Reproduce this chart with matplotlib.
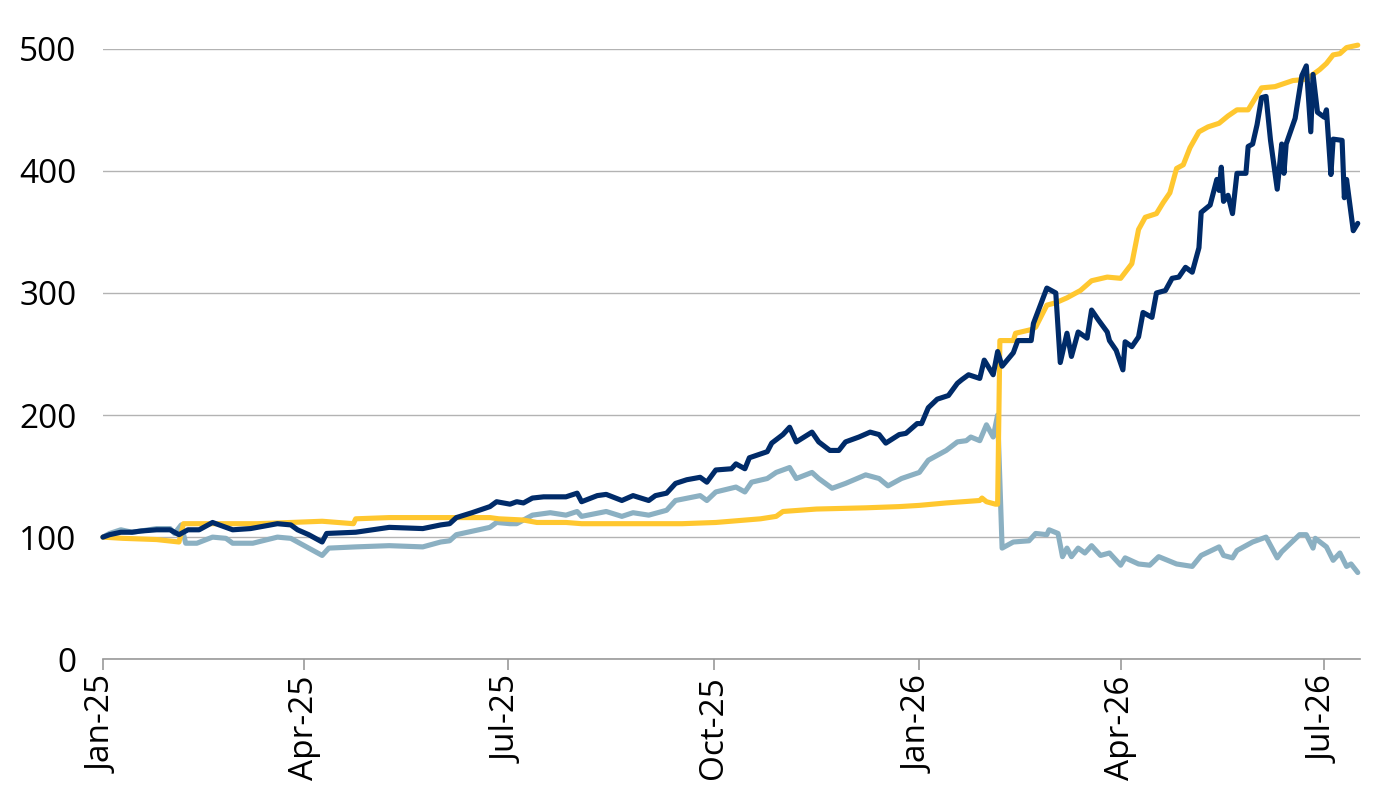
import matplotlib
matplotlib.use("Agg")
import matplotlib.pyplot as plt
import matplotlib.dates as mdates
import numpy as np
import pandas as pd

START = pd.Timestamp("2025-01-01")

# dark navy series (days since start, index value)
navy_days = [0, 3, 8, 13, 17, 24, 30, 34, 38, 43, 49, 58, 66, 78, 84, 87, 92, 98, 100, 113,
             128, 143, 151, 155, 158, 165, 173, 176, 182, 185, 188, 192, 197, 207, 212, 214,
             221, 225, 232, 237, 244, 247, 252, 256, 261, 267, 270, 274, 281, 283, 287, 289,
             297, 299, 304, 307, 310, 317, 320, 325, 329, 332, 338, 343, 347, 350, 356, 359,
             364, 366, 369, 373, 378, 382, 384, 387, 392, 394, 398, 400, 402, 407, 409, 415,
             416, 422, 426, 428, 431, 433, 436, 440, 442, 445, 449, 450, 453, 456, 457, 460,
             463, 465, 469, 471, 475, 478, 481, 484, 487, 490, 491, 495, 498, 499, 500, 501,
             503, 505, 507, 511, 512, 514, 516, 518, 520, 522, 525, 527, 528, 529, 533, 536,
             538, 540, 541, 543, 546, 547, 549, 550, 554, 555, 556, 559, 561]
navy_vals = [100, 102, 104, 104, 105, 106, 106, 102, 106, 106, 112, 106, 107, 111, 110, 106, 102, 96, 103, 104,
             108, 107, 110, 111, 116, 120, 125, 129, 127, 129, 128, 132, 133, 133, 136, 129,
             134, 135, 130, 134, 130, 134, 136, 144, 147, 149, 145, 155, 156, 160, 156, 165,
             170, 177, 184, 190, 178, 186, 178, 171, 171, 178, 182, 186, 184, 177, 184, 185,
             193, 193, 206, 213, 216, 226, 229, 233, 230, 245, 233, 252, 240, 251, 261, 261,
             275, 304, 300, 243, 267, 248, 268, 263, 286, 278, 268, 261, 253, 237, 260, 256,
             264, 284, 280, 300, 302, 312, 313, 321, 317, 337, 366, 372, 393, 384, 403, 375,
             380, 365, 398, 398, 420, 422, 438, 460, 461, 425, 385, 422, 398, 422, 443, 478,
             486, 432, 479, 448, 444, 450, 397, 426, 425, 378, 393, 351, 357]

# light blue series
light_days = [0, 3, 8, 13, 17, 24, 30, 32, 35, 37, 42, 49, 55, 58, 67, 78, 84, 89, 98, 101,
              113, 128, 143, 151, 155, 158, 173, 176, 182, 185, 188, 192, 200, 207, 212, 214,
              225, 232, 237, 244, 252, 256, 267, 270, 274, 283, 287, 290, 297, 301, 307, 310,
              317, 320, 326, 332, 341, 347, 351, 357, 365, 369, 374, 377, 382, 386, 388, 392,
              395, 398, 400, 402, 407, 414, 417, 422, 423, 427, 429, 431, 433, 436, 439, 442,
              446, 450, 455, 457, 463, 468, 472, 480, 487, 491, 499, 501, 505, 507, 514, 520,
              525, 527, 535, 538, 541, 542, 547, 550, 553, 556, 558, 561]
light_vals = [100, 103, 106, 104, 105, 107, 107, 103, 110, 95, 95, 100, 99, 95, 95, 100, 99, 94, 85, 91,
              92, 93, 92, 96, 97, 102, 108, 112, 111, 111, 114, 118, 120, 118, 121, 117,
              121, 117, 120, 118, 122, 130, 134, 130, 137, 141, 137, 145, 148, 153, 157, 148,
              153, 148, 140, 144, 151, 148, 142, 148, 153, 163, 168, 171, 178, 179, 182, 179,
              192, 182, 200, 91, 96, 97, 103, 102, 106, 103, 84, 91, 84, 91, 87, 93,
              85, 87, 77, 83, 78, 77, 84, 78, 76, 85, 92, 85, 83, 89, 96, 100,
              83, 88, 102, 102, 91, 99, 92, 81, 87, 76, 78, 71]

# yellow series
yellow_days = [0, 9, 24, 34, 36, 54, 69, 84, 98, 112, 113, 128, 143, 158, 173, 177, 188, 194,
               207, 214, 237, 259, 274, 294, 301, 304, 319, 341, 356, 365, 377, 392, 393, 395,
               399, 400, 401, 407, 408, 415, 417, 422, 426, 431, 437, 442, 449, 455, 460, 463,
               466, 471, 474, 477, 480, 483, 486, 490, 494, 499, 503, 507, 512, 518, 524, 532,
               538, 544, 547, 550, 553, 556, 561]
yellow_vals = [100, 99, 98, 96, 111, 111, 111, 112, 113, 111, 115, 116, 116, 116, 116, 115, 114, 112,
               112, 111, 111, 111, 112, 115, 117, 121, 123, 124, 125, 126, 128, 130, 132, 129,
               127, 127, 261, 261, 267, 270, 272, 290, 292, 296, 302, 310, 313, 312, 324, 352,
               362, 365, 374, 382, 402, 405, 419, 432, 436, 439, 445, 450, 450, 468, 469, 474,
               475, 483, 488, 495, 496, 501, 503]

y_ticks = [0, 100, 200, 300, 400, 500]
x_ticks = ["2025-01-01", "2025-04-01", "2025-07-01", "2025-10-01",
           "2026-01-01", "2026-04-01", "2026-07-01"]

NAVY = "#002B69"
LIGHT = "#8BB0C2"
YELLOW = "#FFC72F"
GRID = "#B3B3B3"

plt.rcParams["font.family"] = ["Open Sans", "DejaVu Sans"]


def to_dates(days):
    return START + pd.to_timedelta(days, unit="D")


fig = plt.figure(figsize=(13.8, 8), dpi=100)
ax = fig.add_axes([0.0746, 0.176, 0.9109, 0.763])

line_kw = dict(lw=3.7, clip_on=False, solid_joinstyle="round", solid_capstyle="round")
ax.plot(to_dates(light_days), light_vals, color=LIGHT, zorder=3, **line_kw)
ax.plot(to_dates(yellow_days), yellow_vals, color=YELLOW, zorder=4, **line_kw)
ax.plot(to_dates(navy_days), navy_vals, color=NAVY, zorder=5, **line_kw)

ax.set_ylim(0, 500)
ax.set_xlim(START, START + pd.Timedelta(days=562))
ax.set_yticks(y_ticks)
ax.set_xticks(pd.to_datetime(x_ticks))
ax.xaxis.set_major_formatter(mdates.DateFormatter("%b-%y"))

ax.grid(axis="y", color=GRID, lw=1.0, zorder=0)
for side in ["left", "right", "top"]:
    ax.spines[side].set_visible(False)
ax.spines["bottom"].set_color("#999999")
ax.spines["bottom"].set_linewidth(1.2)
ax.set_axisbelow(True)

ax.tick_params(axis="y", length=0, pad=19, labelsize=24)
ax.tick_params(axis="x", length=8, width=1.2, color="#999999", pad=4,
               labelsize=24, labelrotation=90)

fig.savefig("out.png", dpi=100)
